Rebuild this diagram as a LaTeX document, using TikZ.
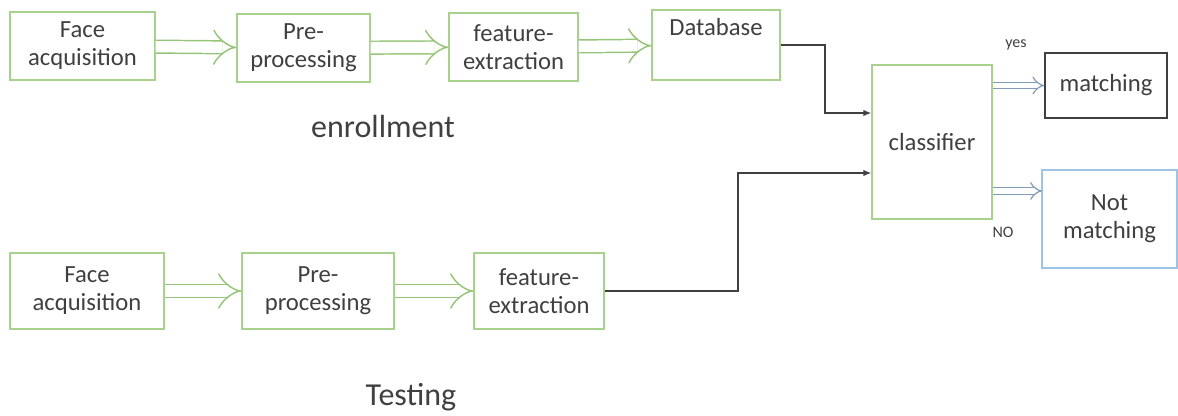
\documentclass[tikz,border=0pt]{standalone}
\usepackage{fontspec}
\setmainfont{Carlito}
\usetikzlibrary{arrows.meta}
\definecolor{boxgreen}{RGB}{169,209,142}
\definecolor{arrowgreen}{RGB}{150,196,120}
\definecolor{textgray}{RGB}{64,64,64}
\definecolor{outblue}{RGB}{130,156,186}
\definecolor{nmblue}{RGB}{157,195,230}
\def\boxfont{\fontsize{18.5}{21}\selectfont}

\begin{document}
\begin{tikzpicture}[x=0.75pt,y=0.75pt,yscale=-1,xscale=1,
		stage/.style={draw=boxgreen,line width=1pt,fill=white,text=textgray,align=center,inner sep=0pt,font=\boxfont},
		flow/.style={draw=arrowgreen,double=white,double distance=8.5pt,line width=1.1pt,-{Implies}},
		decide/.style={draw=outblue,double=white,double distance=3.8pt,line width=0.9pt,-{Implies}},
		link/.style={draw=black!75,line width=1.1pt,-{Latex[length=6pt,width=5pt]}},
		phase/.style={text=textgray,font=\fontsize{24}{28}\selectfont},
		answer/.style={text=textgray,font=\fontsize{12}{14}\selectfont}]
		\useasboundingbox (0,0) rectangle (1178,416);
		\node [stage,minimum width=108.75pt,minimum height=51pt] (fa1) at (82.5,46) {Face\\acquisition};
		\node [stage,minimum width=99.75pt,minimum height=51pt] (pp1) at (303.5,48) {Pre-\\processing};
		\node [stage,minimum width=96.75pt,minimum height=51pt] (fe1) at (513.5,47) {feature-\\extraction};
		\node [stage,minimum width=96pt,minimum height=52.5pt] (db) at (716,45) {Database\\\strut};
		\node [stage,minimum width=115.5pt,minimum height=57pt] (fa2) at (87,291) {Face\\acquisition};
		\node [stage,minimum width=114pt,minimum height=57pt] (pp2) at (318,291) {Pre-\\processing};
		\node [stage,minimum width=97.5pt,minimum height=57pt] (fe2) at (539,291) {feature-\\extraction};
		\node [stage,minimum width=90pt,minimum height=115.5pt] (cls) at (932,142) {classifier};
		\node [stage,draw=textgray,minimum width=91.5pt,minimum height=48.75pt] (match) at (1106,85.5) {matching};
		\node [stage,draw=nmblue,minimum width=101.25pt,minimum height=73.5pt] (nm) at (1109.5,219) {Not\\matching};
		\node [phase] (enroll) at (383,127) {enrollment};
		\node [phase] (test) at (411,397) {Testing};
		\node [answer] (yes) at (1016,45) {yes};
		\node [answer] (no) at (1003,232) {NO};
		\coordinate (bend1) at (825,113);
		\coordinate (bend2) at (738,173);
		\coordinate (noin) at (1042,191);
		\draw [flow] (fa1) -- (pp1);
		\draw [flow] (pp1) -- (fe1);
		\draw [flow] (fe1) -- (db);
		\draw [flow] (fa2) -- (pp2);
		\draw [flow] (pp2) -- (fe2);
		\draw [link] (db.east) -| (bend1) -- (bend1 -| cls.west);
		\draw [link] (fe2.east) -| (bend2) -- (bend2 -| cls.west);
		\draw [decide] (cls.east |- match.west) -- (match.west);
		\draw [decide] (cls.east |- noin) -- (noin);
	\end{tikzpicture}
\end{document}
